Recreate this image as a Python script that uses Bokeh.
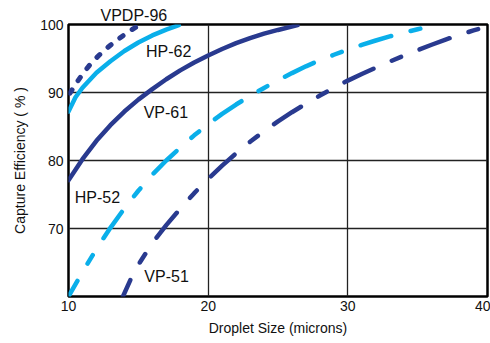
from bokeh.plotting import figure
from bokeh.models import Range1d, FixedTicker, Label, Title
from bokeh.embed import file_html
from bokeh.resources import INLINE

# ---- data ----
x_ticks = [10, 20, 30, 40]
y_ticks = [70, 80, 90, 100]

vpdp96_x = [10.1, 10.5, 11.0, 11.5, 12.0, 12.5, 13.0, 13.5, 14.0, 14.5, 15.0]
vpdp96_y = [89.9, 91.2, 92.7, 94.0, 95.1, 96.1, 96.95, 97.75, 98.5, 99.2, 99.8]

hp62_x = [10.0, 10.5, 11.0, 12.0, 13.0, 14.0, 15.0, 16.0, 17.0, 17.9]
hp62_y = [87.2, 89.3, 90.7, 92.9, 94.6, 96.1, 97.35, 98.4, 99.25, 99.9]

vp61_x = [10, 11, 12, 13, 14, 15, 16, 17, 18, 19, 20, 21, 22, 23, 24, 25, 26.4]
vp61_y = [77.1, 80.2, 82.9, 85.2, 87.2, 88.95, 90.5, 91.95, 93.25, 94.4, 95.45,
          96.4, 97.25, 98.0, 98.65, 99.2, 99.9]

hp52_x = [10, 11, 12, 13, 14, 15, 16, 17, 18, 19, 20, 21, 22, 23, 24, 25, 26, 27,
          28, 29, 30, 31, 32, 33, 34, 35, 35.8]
hp52_y = [60.0, 63.6, 67.0, 70.1, 72.95, 75.55, 77.9, 80.0, 81.9, 83.7, 85.35, 86.85,
          88.23, 89.5, 90.67, 91.8, 92.85, 93.85, 94.75, 95.55, 96.3, 97.0, 97.65,
          98.25, 98.8, 99.3, 99.7]

vp51_x = [13.9, 14.5, 15, 16, 17, 18, 19, 20, 21, 22, 23, 24, 25, 26, 27, 28, 29,
          30, 31, 32, 33, 34, 35, 36, 37, 38, 39, 40]
vp51_y = [60.0, 62.76, 64.66, 67.86, 70.5, 72.9, 75.2, 77.3, 79.25, 81.05, 82.75,
          84.3, 85.75, 87.1, 88.35, 89.55, 90.7, 91.75, 92.72, 93.65, 94.55, 95.4,
          96.22, 97.02, 97.78, 98.48, 99.13, 99.72]

labels = ["HP-62", "VP-61", "HP-52", "VP-51"]
label_x = [15.55, 15.38, 10.45, 15.43]
label_y = [96.0, 87.1, 74.5, 62.9]
top_label = "VPDP-96"

NAVY = "#293a8f"
LIGHT = "#0aafea"
FONT = "Liberation Sans"

p = figure(width=490, height=340, output_backend="svg", toolbar_location=None,
           x_range=Range1d(10, 40), y_range=Range1d(60, 100),
           min_border_left=68, min_border_right=3, min_border_top=24, min_border_bottom=44)

p.outline_line_color = "black"
p.outline_line_width = 2.5
p.background_fill_color = "white"
p.border_fill_color = "white"

p.add_layout(Title(text=top_label, align="left", offset=32, standoff=2,
                   text_font=FONT, text_font_size="16px", text_font_style="normal",
                   text_color="#111111"), "above")

p.xaxis.ticker = FixedTicker(ticks=x_ticks)
p.yaxis.ticker = FixedTicker(ticks=y_ticks)
for ax in (p.xaxis, p.yaxis):
    ax.axis_line_color = None
    ax.major_tick_line_color = None
    ax.minor_tick_line_color = None
    ax.major_tick_out = 0
    ax.major_tick_in = 0
    ax.major_label_text_font = FONT
    ax.major_label_text_font_size = "14px"
    ax.major_label_text_color = "#111111"
    ax.axis_label_text_font = FONT
    ax.axis_label_text_font_size = "14px"
    ax.axis_label_text_font_style = "normal"
    ax.axis_label_text_color = "#111111"
p.xaxis.axis_label = "Droplet Size (microns)"
p.yaxis.axis_label = "Capture Efficiency ( % )"
p.xaxis.major_label_standoff = 4
p.yaxis.major_label_standoff = 5
p.xaxis.axis_label_standoff = 6
p.yaxis.axis_label_standoff = 9

p.xgrid.grid_line_color = "#222222"
p.ygrid.grid_line_color = "#222222"
p.xgrid.grid_line_width = 1.3
p.ygrid.grid_line_width = 1.3

p.line(vp61_x, vp61_y, line_color=NAVY, line_width=4.5, line_cap="round")
p.line(hp62_x, hp62_y, line_color=LIGHT, line_width=4.5, line_cap="round")
p.line(vpdp96_x, vpdp96_y, line_color=NAVY, line_width=5, line_cap="round", line_dash="4 11")
p.line(hp52_x, hp52_y, line_color=LIGHT, line_width=4.5, line_cap="round",
       line_dash="32 20 10 20", line_dash_offset=14)
p.line(vp51_x, vp51_y, line_color=NAVY, line_width=4.5, line_cap="round",
       line_dash="32 20 10 20", line_dash_offset=14)

for t, lx, ly in zip(labels, label_x, label_y):
    p.add_layout(Label(x=lx, y=ly, text=t, text_font=FONT, text_font_size="16px",
                       text_color="#111111", text_align="left", text_baseline="middle"))

open("out.html", "w").write(file_html(p, INLINE))
